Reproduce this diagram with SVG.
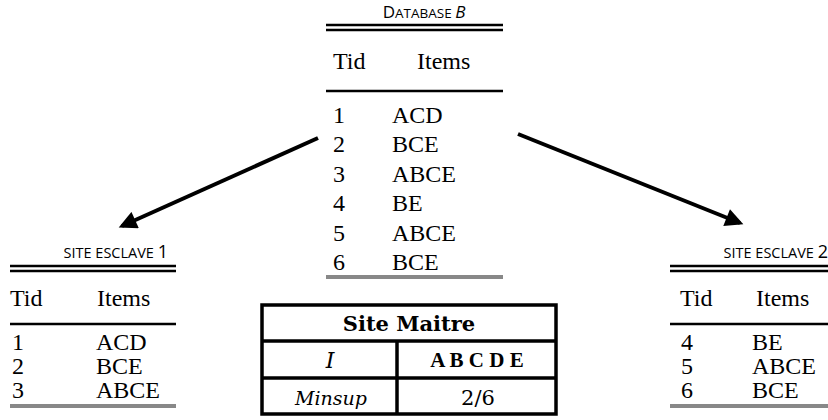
<svg xmlns="http://www.w3.org/2000/svg" width="828" height="420" viewBox="0 0 828 420">
<defs>
<style>
.t{font-family:"Liberation Serif","Times New Roman",serif;font-size:24px;fill:#000}
.cap{font-family:"Open Sans","Liberation Sans",sans-serif;fill:#000}
.pal{font-family:"DejaVu Serif","Liberation Serif",serif;fill:#000}
.bk{stroke:#000;stroke-width:2.5}
.gr{stroke:#888;stroke-width:4}
.conn{stroke:#000;stroke-width:4;fill:none}
</style>
<marker id="ah" viewBox="0 0 10 10" refX="8" refY="5" markerWidth="5" markerHeight="4.5" orient="auto" markerUnits="strokeWidth">
<path d="M0,0 L10,5 L0,10 z" fill="#000"/>
</marker>
</defs>
<rect width="828" height="420" fill="#fff"/>

<g id="database-b">
<text class="cap" x="424" y="18" text-anchor="middle"><tspan font-size="17">D</tspan><tspan font-size="13.5">ATABASE </tspan><tspan font-size="17" font-style="italic">B</tspan></text>
<line class="bk" x1="326" y1="25" x2="503" y2="25"/>
<line class="bk" x1="326" y1="30" x2="503" y2="30"/>
<text class="t" x="333" y="69">Tid</text>
<text class="t" x="417" y="69">Items</text>
<line class="bk" x1="326" y1="91" x2="503" y2="91"/>
<text class="t" x="333" y="123">1</text><text class="t" x="392" y="123">ACD</text>
<text class="t" x="333" y="152">2</text><text class="t" x="392" y="152">BCE</text>
<text class="t" x="333" y="182">3</text><text class="t" x="392" y="182">ABCE</text>
<text class="t" x="333" y="211">4</text><text class="t" x="392" y="211">BE</text>
<text class="t" x="333" y="241">5</text><text class="t" x="392" y="241">ABCE</text>
<text class="t" x="333" y="270">6</text><text class="t" x="392" y="270">BCE</text>
<line class="gr" x1="326" y1="277" x2="503" y2="277"/>
</g>

<g id="site-esclave-1">
<text class="cap" x="168" y="258" text-anchor="end" font-size="14.5">SITE ESCLAVE <tspan font-size="18">1</tspan></text>
<line class="bk" x1="10" y1="266" x2="176" y2="266"/>
<line class="bk" x1="10" y1="271" x2="176" y2="271"/>
<text class="t" x="10" y="306">Tid</text>
<text class="t" x="97" y="306">Items</text>
<line class="bk" x1="10" y1="324" x2="176" y2="324"/>
<text class="t" x="12" y="350">1</text><text class="t" x="96" y="350">ACD</text>
<text class="t" x="12" y="374">2</text><text class="t" x="96" y="374">BCE</text>
<text class="t" x="12" y="398">3</text><text class="t" x="96" y="398">ABCE</text>
<line class="gr" x1="10" y1="406" x2="176" y2="406"/>
</g>

<g id="site-esclave-2">
<text class="cap" x="828" y="258" text-anchor="end" font-size="14.5">SITE ESCLAVE <tspan font-size="18">2</tspan></text>
<line class="bk" x1="670" y1="266" x2="828" y2="266"/>
<line class="bk" x1="670" y1="271" x2="828" y2="271"/>
<text class="t" x="680" y="306">Tid</text>
<text class="t" x="756" y="306">Items</text>
<line class="bk" x1="670" y1="324" x2="828" y2="324"/>
<text class="t" x="681" y="350">4</text><text class="t" x="752" y="350">BE</text>
<text class="t" x="681" y="374">5</text><text class="t" x="752" y="374">ABCE</text>
<text class="t" x="681" y="398">6</text><text class="t" x="752" y="398">BCE</text>
<line class="gr" x1="670" y1="406" x2="828" y2="406"/>
</g>

<g id="site-maitre">
<rect x="262" y="305" width="294" height="109" fill="none" stroke="#000" stroke-width="3.5"/>
<line x1="262" y1="341" x2="556" y2="341" stroke="#000" stroke-width="3.5"/>
<line x1="262" y1="378" x2="556" y2="378" stroke="#000" stroke-width="3.5"/>
<line x1="397" y1="341" x2="397" y2="414" stroke="#000" stroke-width="3.5"/>
<text class="pal" x="409" y="331" text-anchor="middle" font-weight="bold" font-size="21">Site Maitre</text>
<text class="pal" x="330" y="368" text-anchor="middle" font-style="italic" font-size="22">I</text>
<text x="477" y="367" text-anchor="middle" font-family="Liberation Serif, serif" font-weight="bold" font-size="21">A B C D E</text>
<text class="pal" x="331" y="405" text-anchor="middle" font-style="italic" font-size="19">Minsup</text>
<text class="pal" x="478" y="405" text-anchor="middle" font-size="21">2/6</text>
</g>

<g id="connectors">
<line class="conn" x1="318" y1="138" x2="122" y2="226" marker-end="url(#ah)"/>
<line class="conn" x1="518" y1="134" x2="740" y2="223" marker-end="url(#ah)"/>
</g>
</svg>
